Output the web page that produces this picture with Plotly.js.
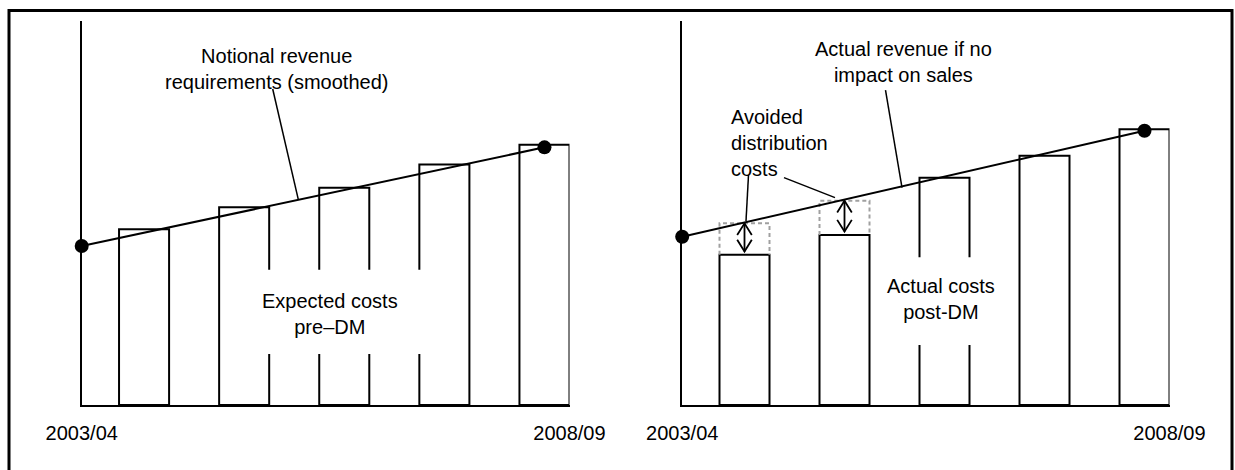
<!DOCTYPE html>
<html>
<head>
<meta charset="utf-8">
<script src="https://cdn.plot.ly/plotly-3.0.1.min.js"></script>
<style>
  html, body { margin: 0; padding: 0; background: #ffffff; }
  #chart { width: 1235px; height: 470px; }
</style>
</head>
<body>
<div id="chart"></div>
<script>
// ---------- data (schematic index units) ----------
const years = ['2003/04', '2004/05', '2005/06', '2006/07', '2007/08', '2008/09'];
const axisLabels = ['2003/04', '2008/09'];
// Left panel: expected costs pre-DM and smoothed notional revenue requirement
const expectedCostsPreDM = [45.8, 51.5, 56.6, 62.6, 67.8];
const notionalRevenue = [41.4, 67.1];            // at 2003/04 and 2008/09
// Right panel: actual costs post-DM, avoided part, revenue if no sales impact
const actualCostsPostDM = [39.1, 44.3, 59.2, 64.9, 71.8];
const expectedCostsBeforeAvoided = [47.3, 53.2]; // first two years (dashed)
const actualRevenueNoImpact = [43.8, 71.4];      // at 2003/04 and 2008/09

// ---------- positions ----------
const X0 = 0.377, XEND = 5.25, BW = 0.5;
const barX = years.slice(1).map((y, i) => i + 1);
const lineX = [X0, barX[barX.length - 1]];

const W = 1235, H = 470;
const FONT = { family: '"Liberation Sans", Arial, Helvetica, sans-serif', size: 20, color: '#000000' };

const barStyle = { color: '#ffffff', line: { color: '#000000', width: 2 } };
const lineStyle = { color: '#000000', width: 2 };

// dashed outline of avoided costs
const dashX = [], dashY = [];
expectedCostsBeforeAvoided.forEach((v, i) => {
  const c = barX[i];
  dashX.push(c - BW / 2, c - BW / 2, c + BW / 2, c + BW / 2, null);
  dashY.push(actualCostsPostDM[i], v, v, actualCostsPostDM[i], null);
});

// double-headed arrows between actual and expected costs (open V heads)
const HEAD_W = 0.073, HEAD_L = 3.05, GAP = 0.86;
const arrX = [], arrY = [];
expectedCostsBeforeAvoided.forEach((v, i) => {
  const c = barX[i];
  const top = v, bot = actualCostsPostDM[i] + GAP;
  arrX.push(c, c, null, c - HEAD_W, c, c + HEAD_W, null, c - HEAD_W, c, c + HEAD_W, null);
  arrY.push(bot, top, null, top - HEAD_L, top, top - HEAD_L, null, bot + HEAD_L, bot, bot + HEAD_L, null);
});

const traces = [
  { type: 'bar', x: barX, y: expectedCostsPreDM, width: BW, marker: barStyle,
    xaxis: 'x', yaxis: 'y', hoverinfo: 'skip' },
  { type: 'scatter', mode: 'lines+markers', x: lineX, y: notionalRevenue,
    line: lineStyle, marker: { size: 14, color: '#000000' }, cliponaxis: false,
    xaxis: 'x', yaxis: 'y', hoverinfo: 'skip' },
  { type: 'bar', x: barX, y: actualCostsPostDM, width: BW, marker: barStyle,
    xaxis: 'x2', yaxis: 'y2', hoverinfo: 'skip' },
  { type: 'scatter', mode: 'lines', x: dashX, y: dashY,
    line: { color: '#a0a0a0', width: 2, dash: '4px,3px' },
    xaxis: 'x2', yaxis: 'y2', hoverinfo: 'skip' },
  { type: 'scatter', mode: 'lines', x: arrX, y: arrY,
    line: { color: '#000000', width: 1.8 },
    xaxis: 'x2', yaxis: 'y2', hoverinfo: 'skip' },
  { type: 'scatter', mode: 'lines+markers', x: lineX, y: actualRevenueNoImpact,
    line: lineStyle, marker: { size: 14, color: '#000000' }, cliponaxis: false,
    xaxis: 'x2', yaxis: 'y2', hoverinfo: 'skip' }
];

function xAxis(domain, anchor) {
  return {
    domain: domain, anchor: anchor, range: [X0, XEND],
    showline: true, linecolor: '#000000', linewidth: 2,
    showgrid: false, zeroline: false, ticks: '',
    tickmode: 'array', tickvals: [X0 + 0.0005, XEND - 0.0005], ticktext: axisLabels,
    tickfont: FONT, ticklabelstandoff: 9, fixedrange: true
  };
}
function yAxis(anchor) {
  return {
    domain: [65 / H, 449 / H], anchor: anchor, range: [0, 100],
    showline: true, linecolor: '#000000', linewidth: 2,
    showgrid: false, zeroline: false, ticks: '', showticklabels: false, fixedrange: true
  };
}

const ann = (xref, yref, x, y, text, extra) => Object.assign({
  xref: xref, yref: yref, x: x, y: y, text: text, showarrow: false,
  font: FONT, xanchor: 'center', yanchor: 'middle', align: 'center', borderpad: 0
}, extra || {});

const annotations = [
  ann('x', 'y', 2.327, 87.6, 'Notional revenue<br>requirements (smoothed)'),
  ann('x', 'y', 2.856, 23.7, 'Expected costs<br>pre\u2013DM'),
  ann('x2', 'y2', 2.585, 89.2, 'Actual revenue if no<br>impact on sales'),
  ann('x2', 'y2', 0.855, 68.3, 'Avoided<br>distribution<br>costs', { xanchor: 'left', align: 'left' }),
  ann('x2', 'y2', 2.96, 27.6, 'Actual costs<br>post-DM')
];

const leader = (xref, yref, x0, y0, x1, y1) => ({
  type: 'line', xref: xref, yref: yref, x0: x0, y0: y0, x1: x1, y1: y1,
  line: { color: '#000000', width: 1.5 }
});
const mask = (xref, yref, x0, x1, y0, y1) => ({
  type: 'rect', layer: 'above', xref: xref, yref: yref, x0: x0, x1: x1, y0: y0, y1: y1,
  fillcolor: '#ffffff', line: { width: 0 }
});

const shapes = [
  mask('x', 'y', 2.22, 3.80, 13.3, 35.2),
  mask('x2', 'y2', 2.68, 3.28, 15.6, 38.5),
  leader('x', 'y', 2.285, 82.3, 2.54, 53.6),
  leader('x2', 'y2', 2.41, 82.0, 2.575, 56.6),
  leader('x2', 'y2', 1.04, 59.9, 1.015, 47.9),
  leader('x2', 'y2', 1.395, 59.2, 1.905, 54.0),
  { type: 'rect', xref: 'paper', yref: 'paper', x0: 9 / W, x1: 1232 / W, y0: -0.1, y1: 1 - 10.5 / H,
    line: { color: '#000000', width: 3 } }
];

const layout = {
  width: W, height: H, autosize: false,
  margin: { l: 0, r: 0, t: 0, b: 0, pad: 0 },
  paper_bgcolor: '#ffffff', plot_bgcolor: 'rgba(0,0,0,0)',
  showlegend: false, hovermode: false, font: FONT,
  xaxis: xAxis([81.7 / W, 569.5 / W], 'y'),
  yaxis: yAxis('x'),
  xaxis2: xAxis([682.2 / W, 1169.5 / W], 'y2'),
  yaxis2: yAxis('x2'),
  annotations: annotations,
  shapes: shapes
};

Plotly.newPlot('chart', traces, layout, { displayModeBar: false, staticPlot: true });
</script>
</body>
</html>
